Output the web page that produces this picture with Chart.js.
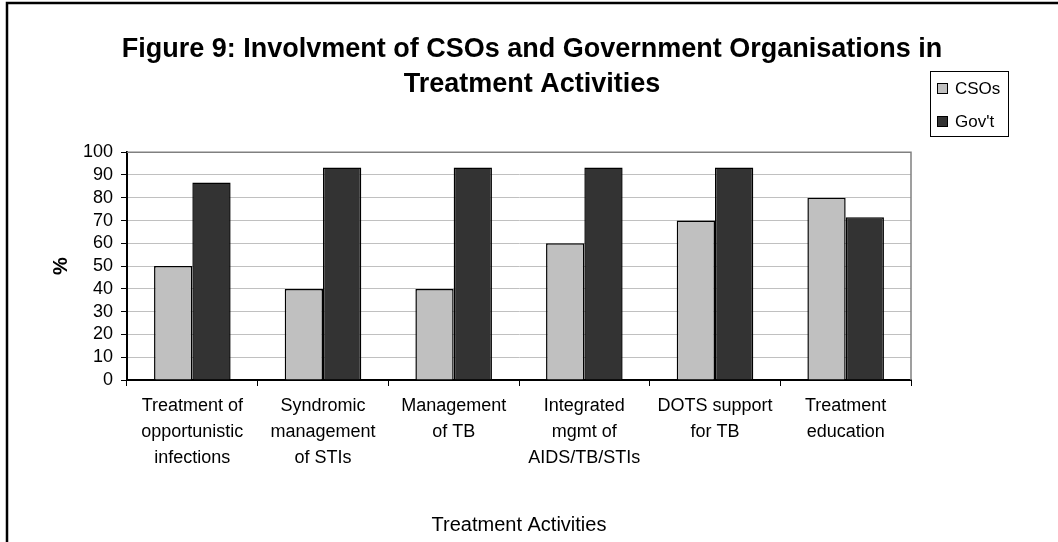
<!DOCTYPE html>
<html>
<head>
<meta charset="utf-8">
<script src="https://cdn.jsdelivr.net/npm/chart.js@4.4.1/dist/chart.umd.min.js"></script>
<style>
  html, body { margin: 0; padding: 0; background: #fff; }
  #wrap { width: 1058px; height: 542px; position: relative; }
</style>
</head>
<body>
<div id="wrap"><canvas id="chart" width="1058" height="542"></canvas></div>
<script>
// chart data
const categories = [
  ['Treatment of', 'opportunistic', 'infections'],
  ['Syndromic', 'management', 'of STIs'],
  ['Management', 'of TB'],
  ['Integrated', 'mgmt of', 'AIDS/TB/STIs'],
  ['DOTS support', 'for TB'],
  ['Treatment', 'education']
];
const seriesNames = ['CSOs', "Gov't"];
const csoValues = [50, 40, 40, 60, 70, 80];
const govValues = [86.7, 93.3, 93.3, 93.3, 93.3, 71.4];
const yMin = 0, yMax = 100, yStep = 10;

const FONT = "'Liberation Sans', Arial, sans-serif";

// outer frame of the figure (left + top edges only are visible)
const framePlugin = {
  id: 'frame',
  beforeDraw(chart) {
    const ctx = chart.ctx;
    ctx.save();
    ctx.fillStyle = '#fff';
    ctx.fillRect(0, 0, chart.width, chart.height);
    ctx.strokeStyle = '#000';
    ctx.lineWidth = 2.5;
    ctx.beginPath();
    ctx.moveTo(7, chart.height);
    ctx.lineTo(7, 3);
    ctx.lineTo(chart.width, 3);
    ctx.stroke();
    ctx.restore();
  }
};

// grey border on top/right of the plot area
const plotBorder = {
  id: 'plotBorder',
  beforeDatasetsDraw(chart) {
    const a = chart.chartArea, ctx = chart.ctx;
    ctx.save();
    ctx.strokeStyle = '#808080';
    ctx.lineWidth = 1.5;
    ctx.beginPath();
    ctx.moveTo(a.left, a.top);
    ctx.lineTo(a.right, a.top);
    ctx.lineTo(a.right, a.bottom);
    ctx.stroke();
    ctx.restore();
  }
};

// boxed legend at the top right, like the original
const boxLegend = {
  id: 'boxLegend',
  afterDraw(chart) {
    const ctx = chart.ctx;
    const x = 930, y = 71, w = 78, h = 65;
    ctx.save();
    ctx.fillStyle = '#fff';
    ctx.fillRect(x, y, w, h);
    ctx.strokeStyle = '#000';
    ctx.lineWidth = 1;
    ctx.strokeRect(x + 0.5, y + 0.5, w, h);
    ctx.font = '17px ' + FONT;
    ctx.textBaseline = 'middle';
    chart.data.datasets.forEach((ds, i) => {
      const cy = y + 17 + i * 33;
      ctx.fillStyle = ds.backgroundColor;
      ctx.fillRect(x + 7, cy - 5, 11, 11);
      ctx.strokeStyle = '#000';
      ctx.strokeRect(x + 7.5, cy - 4.5, 10, 10);
      ctx.fillStyle = '#000';
      ctx.fillText(ds.label, x + 25, cy + 1);
    });
    ctx.restore();
  }
};

new Chart(document.getElementById('chart'), {
  type: 'bar',
  data: {
    labels: categories,
    datasets: [
      {
        label: seriesNames[0],
        data: csoValues,
        backgroundColor: '#c0c0c0',
        borderColor: '#000',
        borderWidth: 1.5,
        categoryPercentage: 0.586,
        barPercentage: 1.0
      },
      {
        label: seriesNames[1],
        data: govValues,
        backgroundColor: '#333333',
        borderColor: '#000',
        borderWidth: 1.5,
        categoryPercentage: 0.586,
        barPercentage: 1.0
      }
    ]
  },
  options: {
    responsive: false,
    animation: false,
    layout: { padding: { left: 6, right: 0, top: 0, bottom: 0 } },
    plugins: {
      legend: { display: false },
      tooltip: { enabled: false },
      title: {
        display: true,
        text: ['Figure 9: Involvment of CSOs and Government Organisations in', 'Treatment Activities'],
        color: '#000',
        font: { family: FONT, size: 27, weight: 'bold', lineHeight: 1.3 },
        padding: { top: 32, bottom: 50 }
      }
    },
    scales: {
      x: {
        offset: true,
        grid: { display: true, drawOnChartArea: false, drawTicks: true, tickLength: 6, color: '#000', offset: true },
        border: { display: true, color: '#000', width: 2 },
        ticks: { color: '#000', font: { family: FONT, size: 18, lineHeight: 1.44 }, padding: 7, maxRotation: 0, autoSkip: false },
        title: { display: true, text: 'Treatment Activities', color: '#000', font: { family: FONT, size: 20 }, padding: { top: 0, bottom: 5 } },
        afterFit(scale) { scale.height = 162; }
      },
      y: {
        min: yMin,
        max: yMax,
        grid: { color: '#c0c0c0', lineWidth: 1, tickLength: 6, tickColor: '#000', drawTicks: true },
        border: { display: true, color: '#000', width: 2 },
        ticks: { stepSize: yStep, autoSkip: false, color: '#000', font: { family: FONT, size: 18 }, padding: 8 },
        title: { display: true, text: '%', color: '#000', font: { family: FONT, size: 20, weight: 'bold' }, padding: { top: 43, bottom: 0 } },
        afterFit(scale) { scale.width = 121; }
      },
      // empty box on the right that keeps room for the legend
      side: {
        type: 'linear',
        position: 'right',
        display: true,
        grid: { display: false },
        border: { display: false },
        ticks: { display: false },
        afterFit(scale) { scale.width = 147; }
      }
    }
  },
  plugins: [framePlugin, plotBorder, boxLegend]
});
</script>
</body>
</html>
